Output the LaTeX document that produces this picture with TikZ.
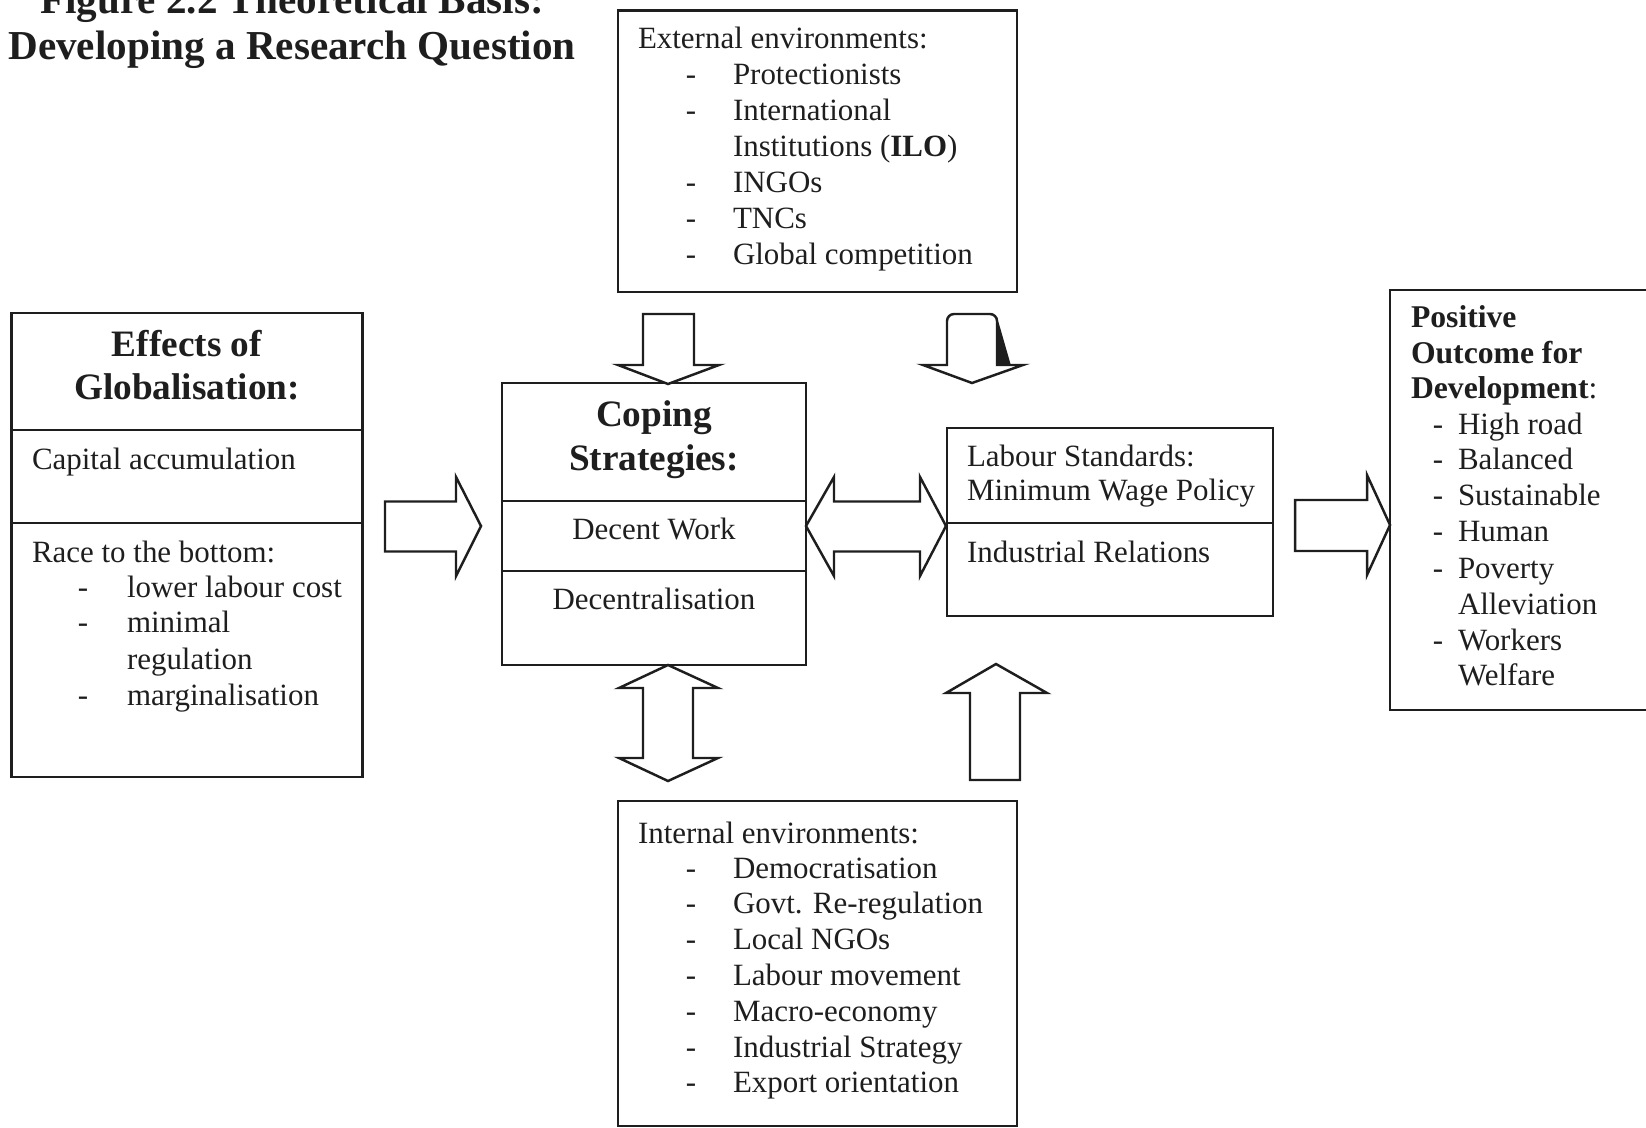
\documentclass[tikz,border=0pt]{standalone}
\usepackage{fontspec}
\setmainfont{Liberation Serif}
\usetikzlibrary{fit}
\definecolor{ink}{HTML}{1E1E1E}
\begin{document}
\begin{tikzpicture}[x=0.01cm,y=-0.01cm,
  box/.style={draw=ink, line width=0.7pt, inner sep=0pt, outer sep=0pt},
  barrow/.style={draw=ink, line width=0.7pt, fill=white, line join=miter},
  divline/.style={draw=ink, line width=0.7pt},
  t/.style={inner sep=0pt, outer sep=0pt, anchor=base west, text=ink, font=\fontsize{8.8}{10.2}\selectfont},
  tc/.style={t, anchor=base},
  hb/.style={inner sep=0pt, outer sep=0pt, anchor=base, text=ink, font=\fontsize{10.6}{12.2}\selectfont\bfseries},
  pb/.style={t, font=\fontsize{9}{10.2}\selectfont\bfseries},
  ttl/.style={hb, font=\fontsize{11.7}{13}\selectfont\bfseries}]
\useasboundingbox (0,0) rectangle (1646,1128);

% title
\node[ttl] (title1) at (292,14) {Figure 2.2 Theoretical Basis:};
\node[ttl] (title2) at (292,60) {Developing a Research Question};

% boxes
\node[box, fit={(11.7,313) (362.7,777)}] (glob) {};
\draw[divline] (11.7,430) -- (362.7,430);
\draw[divline] (11.7,523) -- (362.7,523);

\node[box, fit={(502,383) (806,665)}] (cope) {};
\draw[divline] (502,501) -- (806,501);
\draw[divline] (502,571) -- (806,571);

\node[box, fit={(618,10.5) (1017,292)}] (ext) {};
\node[box, fit={(618,801) (1017,1126)}] (int) {};

\node[box, fit={(947,428) (1273,616)}] (lab) {};
\draw[divline] (947,523) -- (1273,523);

\node[box, fit={(1390,290) (1670,710)}] (pos) {};

% block arrows
\draw[barrow] (385,501.5) -- (456,501.5) -- (456,477) -- (481,526) -- (456,576) -- (456,551.5) -- (385,551.5) -- cycle;
\draw[barrow] (1295,500) -- (1367,500) -- (1367,475) -- (1390,525) -- (1367,575) -- (1367,551) -- (1295,551) -- cycle;
\draw[barrow] (806,526) -- (834,477) -- (834,501.5) -- (920,501.5) -- (920,477) -- (946,526) -- (920,576) -- (920,551.5) -- (834,551.5) -- (834,576) -- cycle;
\draw[barrow] (643,314) -- (694,314) -- (694,365) -- (719,365) -- (668,384) -- (618,365) -- (643,365) -- cycle;
\draw[barrow] (923,365) -- (947,365) [rounded corners=2pt] -- (947,314) -- (997,314) [sharp corners] -- (997,365) -- (1023,365) -- (972,383) -- cycle;
\fill[ink] (997,317) -- (1010.5,364) -- (997,364) -- cycle;
\draw[barrow] (668,665) -- (718,688) -- (693,688) -- (693,758) -- (718,758) -- (668,781) -- (619,758) -- (643,758) -- (643,688) -- (619,688) -- cycle;
\draw[barrow] (996,664) -- (1047,693) -- (1020,693) -- (1020,780) -- (970,780) -- (970,693) -- (946,693) -- cycle;

% left box text
\node[hb] (g1) at (187,357) {Effects of};
\node[hb] (g2) at (187,400) {Globalisation:};
\node[t] (cap) at (32,470) {Capital accumulation};
\node[t] (race) at (32,562) {Race to the bottom:};
\node[tc] (gd1) at (83,597) {-};
\node[t] (gl1) at (127,597) {lower labour cost};
\node[tc] (gd2) at (83,633) {-};
\node[t] (gl2) at (127,633) {minimal};
\node[t] (gl2b) at (127,669) {regulation};
\node[tc] (gd3) at (83,705) {-};
\node[t] (gl3) at (127,705) {marginalisation};

% coping text
\node[hb] (c1) at (654,427) {Coping};
\node[hb] (c2) at (654,471) {Strategies:};
\node[tc] (c3) at (654,540) {Decent Work};
\node[tc] (c4) at (654,610) {Decentralisation};

% external text
\node[t] (e0) at (638,49) {External environments:};
\node[tc] (ed1) at (691,85) {-};
\node[t] (e1) at (733,85) {Protectionists};
\node[tc] (ed2) at (691,121) {-};
\node[t] (e2) at (733,121) {International};
\node[t] (e2b) at (733,157) {Institutions (\textbf{ILO})};
\node[tc] (ed3) at (691,193) {-};
\node[t] (e3) at (733,193) {INGOs};
\node[tc] (ed4) at (691,229) {-};
\node[t] (e4) at (733,229) {TNCs};
\node[tc] (ed5) at (691,265) {-};
\node[t] (e5) at (733,265) {Global competition};

% internal text
\node[t] (i0) at (638,843) {Internal environments:};
\foreach \txt [count=\k] in {Democratisation, Govt. Re-regulation, Local NGOs, Labour movement, Macro-economy, Industrial Strategy, Export orientation}{
  \node[tc] (id\k) at (691,{878+35.8*(\k-1)}) {-};
  \node[t] (i\k) at (733,{878+35.8*(\k-1)}) {\txt};
}

% labour text
\node[t] (l1) at (967,467) {Labour Standards:};
\node[t] (l2) at (967,501) {Minimum Wage Policy};
\node[t] (l3) at (967,563) {Industrial Relations};

% positive text
\node[pb] (p1) at (1411,328) {Positive};
\node[pb] (p2) at (1411,364) {Outcome for};
\node[pb] (p3) at (1411,399) {Development\textmd{:}};
\node[tc] (pd1) at (1438,435) {-};
\node[t] (pi1) at (1458,435) {High road};
\node[tc] (pd2) at (1438,470) {-};
\node[t] (pi2) at (1458,470) {Balanced};
\node[tc] (pd3) at (1438,506) {-};
\node[t] (pi3) at (1458,506) {Sustainable};
\node[tc] (pd4) at (1438,542) {-};
\node[t] (pi4) at (1458,542) {Human};
\node[tc] (pd5) at (1438,578) {-};
\node[t] (pi5) at (1458,578) {Poverty};
\node[t] (pi5b) at (1458,614) {Alleviation};
\node[tc] (pd6) at (1438,650) {-};
\node[t] (pi6) at (1458,650) {Workers};
\node[t] (pi6b) at (1458,685) {Welfare};
\end{tikzpicture}
\end{document}
